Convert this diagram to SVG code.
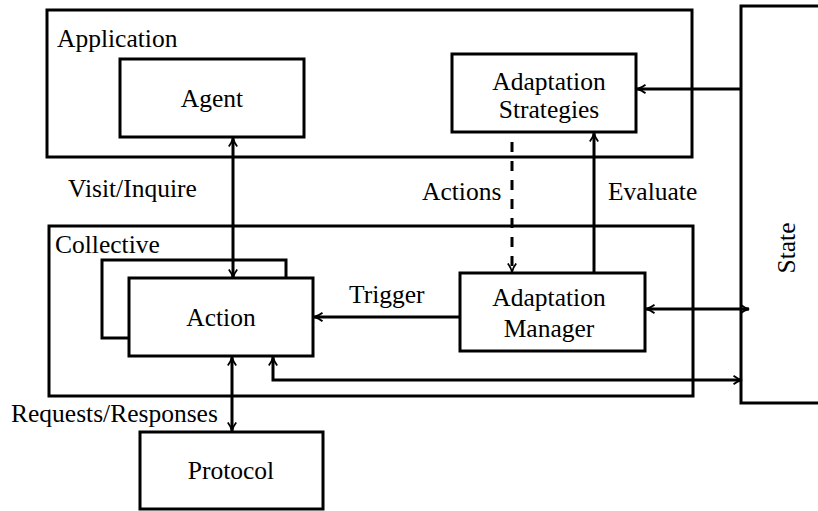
<svg xmlns="http://www.w3.org/2000/svg" width="818" height="511" viewBox="0 0 818 511">
<style>
.box{fill:#fff;stroke:#000;stroke-width:3}
.frame{fill:none;stroke:#000;stroke-width:3}
.t{font-family:'Liberation Serif','Times New Roman',serif;font-size:25.5px;fill:#000}
.c{text-anchor:middle}
.ln{fill:none;stroke:#000;stroke-width:3}
.dash{stroke-dasharray:10 9}
</style>
<defs>
<marker id="ah" viewBox="0 0 10 10" refX="9.5" refY="5" markerWidth="10" markerHeight="10" markerUnits="userSpaceOnUse" orient="auto-start-reverse">
<path d="M1,0.8 Q5,4 9.5,5 Q5,6 1,9.2" fill="none" stroke="#000" stroke-width="1.8"/>
</marker>
</defs>
<rect width="818" height="511" fill="#fff"/>
<g id="application">
<rect class="frame" x="47" y="10" width="645" height="147"/>
<text class="t" x="57" y="47">Application</text>
</g>
<g id="state">
<rect class="frame" x="741" y="6" width="90" height="397"/>
<text class="t c" transform="translate(795,248) rotate(-90)">State</text>
</g>
<g id="collective">
<rect class="frame" x="49" y="226" width="644" height="170"/>
<text class="t" x="55" y="253">Collective</text>
</g>
<g id="agent">
<rect class="box" x="120" y="59" width="184" height="78"/>
<text class="t c" x="212" y="107">Agent</text>
</g>
<g id="adaptation-strategies">
<rect class="box" x="452" y="54" width="184" height="78"/>
<text class="t c" x="549" y="90">Adaptation</text>
<text class="t c" x="549" y="118">Strategies</text>
</g>
<g id="action">
<rect class="box" x="102" y="260" width="184" height="78"/>
<rect class="box" x="129" y="278" width="184" height="78"/>
<text class="t c" x="221" y="326">Action</text>
</g>
<g id="adaptation-manager">
<rect class="box" x="460" y="273" width="185" height="78"/>
<text class="t c" x="549" y="306">Adaptation</text>
<text class="t c" x="549" y="337">Manager</text>
</g>
<g id="protocol">
<rect class="box" x="140" y="432" width="183" height="77"/>
<text class="t c" x="231" y="479">Protocol</text>
</g>
<g id="connectors">
<line class="ln" x1="233" y1="278" x2="233" y2="138" marker-start="url(#ah)" marker-end="url(#ah)"/>
<line class="ln" x1="741" y1="89" x2="637" y2="89" marker-end="url(#ah)"/>
<line class="ln dash" x1="512" y1="142" x2="512" y2="272" marker-end="url(#ah)"/>
<line class="ln" x1="594" y1="273" x2="594" y2="133" marker-end="url(#ah)"/>
<line class="ln" x1="460" y1="317" x2="314" y2="317" marker-end="url(#ah)"/>
<line class="ln" x1="646" y1="309" x2="749" y2="309" marker-start="url(#ah)" marker-end="url(#ah)"/>
<polyline class="ln" points="742,380 273,380 273,357" marker-start="url(#ah)" marker-end="url(#ah)"/>
<line class="ln" x1="232" y1="357" x2="232" y2="431" marker-start="url(#ah)" marker-end="url(#ah)"/>
<text class="t" x="68" y="197">Visit/Inquire</text>
<text class="t" x="422" y="200">Actions</text>
<text class="t" x="608" y="200">Evaluate</text>
<text class="t" x="349" y="303">Trigger</text>
<text class="t" x="11" y="422">Requests/Responses</text>
</g>
</svg>
